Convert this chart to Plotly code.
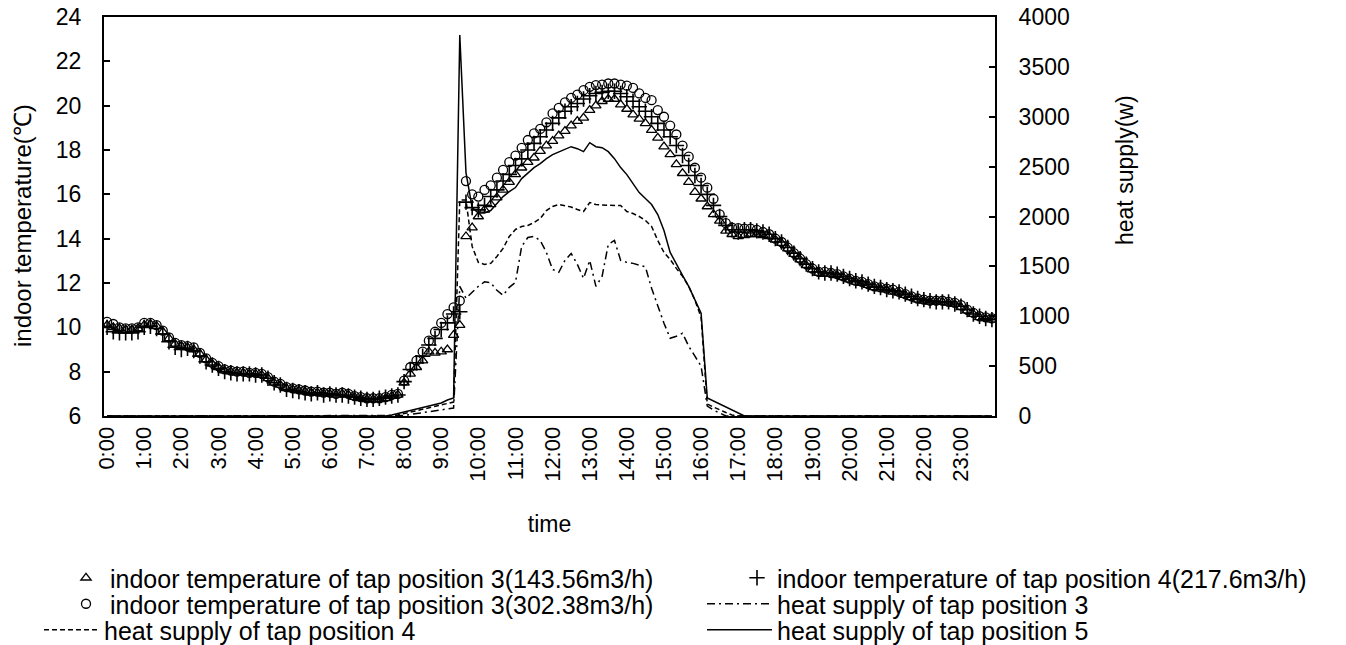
import plotly.graph_objects as go

# 10-minute time categories
times = [f"{h}:{m:02d}" for h in range(24) for m in range(0, 60, 10)]
hour_labels = [f"{h}:00" for h in range(24)]

temp_tap3_143 = [
    10.1, 10.0, 9.95, 9.9, 9.9, 9.95, 10.1, 10.15, 10.05, 9.8,
    9.5, 9.25, 9.15, 9.1, 9.0, 8.8, 8.55, 8.35, 8.2, 8.05,
    8.0, 7.95, 7.95, 7.9, 7.9, 7.85, 7.7, 7.5, 7.4, 7.25,
    7.2, 7.15, 7.1, 7.05, 7.05, 7.0, 7.0, 6.95, 7.0, 6.95,
    6.85, 6.8, 6.75, 6.75, 6.75, 6.8, 6.9, 6.95, 7.5, 7.9,
    8.2, 8.5, 8.9, 8.85, 8.9, 9.0, 9.65, 10.1, 14.1, 14.5,
    15.0, 15.3, 15.55, 15.85, 16.2, 16.55, 16.9, 17.2, 17.45, 17.65,
    17.95, 18.2, 18.4, 18.65, 18.85, 19.1, 19.3, 19.45, 19.8, 20.0,
    20.2, 20.3, 20.3, 20.05, 19.85, 19.6, 19.4, 19.2, 18.9, 18.55,
    18.15, 17.8, 17.35, 16.95, 16.55, 16.1, 15.8, 15.45, 15.1, 14.8,
    14.35, 14.2, 14.1, 14.15, 14.2, 14.2, 14.15, 14.1, 13.95, 13.8,
    13.55, 13.3, 13.05, 12.8, 12.6, 12.45, 12.4, 12.4, 12.35, 12.25,
    12.15, 12.05, 12.0, 11.9, 11.8, 11.75, 11.7, 11.6, 11.55, 11.45,
    11.35, 11.25, 11.2, 11.15, 11.15, 11.15, 11.1, 11.05, 10.9, 10.75,
    10.6, 10.45, 10.4, 10.35,
]

temp_tap4_217 = [
    10.0, 9.8, 9.75, 9.75, 9.75, 9.8, 10.0, 10.05, 9.95, 9.7,
    9.35, 9.1, 9.0, 9.05, 8.95, 8.7, 8.45, 8.3, 8.15, 8.0,
    7.95, 7.9, 7.9, 7.9, 7.85, 7.85, 7.7, 7.5, 7.4, 7.2,
    7.15, 7.1, 7.05, 7.0, 7.05, 6.95, 7.0, 6.95, 6.95, 6.9,
    6.85, 6.8, 6.75, 6.75, 6.8, 6.85, 6.9, 6.95, 7.55, 8.1,
    8.4, 8.7, 9.2, 9.5, 9.9, 10.2, 10.6, 10.7, 15.65, 15.4,
    15.3, 15.5, 15.9, 16.2, 16.6, 16.9, 17.3, 17.6, 18.0, 18.3,
    18.6, 18.9, 19.2, 19.45, 19.75, 19.95, 20.1, 20.3, 20.45, 20.55,
    20.6, 20.65, 20.65, 20.55, 20.4, 20.2, 19.95, 19.75, 19.5, 19.2,
    18.9, 18.6, 18.2, 17.75, 17.3, 16.85, 16.4, 16.0, 15.5, 15.0,
    14.6, 14.4, 14.3, 14.4, 14.4, 14.35, 14.3, 14.2, 14.0, 13.85,
    13.6, 13.35, 13.1, 12.85, 12.65, 12.5, 12.45, 12.45, 12.4, 12.3,
    12.2, 12.1, 12.05, 11.95, 11.85, 11.8, 11.7, 11.65, 11.6, 11.5,
    11.4, 11.3, 11.25, 11.2, 11.15, 11.15, 11.15, 11.05, 10.95, 10.8,
    10.6, 10.5, 10.4, 10.35,
]

temp_tap3_302 = [
    10.25, 10.15, 10.0, 9.95, 9.95, 10.0, 10.2, 10.2, 10.1, 9.85,
    9.55, 9.3, 9.2, 9.15, 9.1, 8.85, 8.6, 8.4, 8.25, 8.1,
    8.05, 8.0, 8.0, 7.95, 7.95, 7.9, 7.75, 7.55, 7.45, 7.3,
    7.25, 7.2, 7.15, 7.1, 7.1, 7.05, 7.05, 7.0, 7.05, 7.0,
    6.9, 6.85, 6.8, 6.8, 6.8, 6.85, 6.95, 7.0, 7.6, 8.2,
    8.5, 8.9, 9.4, 9.8, 10.2, 10.6, 10.9, 11.2, 16.6, 16.0,
    15.9, 16.2, 16.4, 16.75, 17.1, 17.45, 17.75, 18.1, 18.45, 18.75,
    18.95, 19.25, 19.65, 19.9, 20.15, 20.35, 20.5, 20.7, 20.85, 20.93,
    20.95, 21.0, 21.0, 20.95, 20.9, 20.8, 20.55, 20.35, 20.25, 19.8,
    19.5, 19.1, 18.7, 18.2, 17.7, 17.2, 16.75, 16.3, 15.8, 15.1,
    14.7, 14.5, 14.48, 14.45, 14.45, 14.4, 14.3, 14.2, 14.0, 13.85,
    13.6, 13.35, 13.1, 12.85, 12.65, 12.5, 12.5, 12.45, 12.4, 12.3,
    12.2, 12.1, 12.05, 11.95, 11.85, 11.8, 11.75, 11.7, 11.6, 11.5,
    11.4, 11.3, 11.25, 11.2, 11.2, 11.2, 11.15, 11.1, 11.0, 10.8,
    10.65, 10.5, 10.45, 10.4,
]

heat_tap3 = [
    0, 0, 0, 0, 0, 0, 0, 0, 0, 0,
    0, 0, 0, 0, 0, 0, 0, 0, 0, 0,
    0, 0, 0, 0, 0, 0, 0, 0, 0, 0,
    0, 0, 0, 0, 0, 0, 0, 0, 0, 0,
    0, 0, 0, 0, 0, 0, 0, 0, 5, 15,
    25, 35, 45, 55, 65, 75, 80, 1300, 1180, 1240,
    1300, 1345, 1335, 1260, 1210, 1290, 1340, 1700, 1790, 1800,
    1760, 1640, 1470, 1440, 1560, 1630, 1520, 1380, 1560, 1300,
    1400, 1720, 1760, 1560, 1540, 1530, 1510, 1495, 1280, 1100,
    930, 780, 800, 830, 700, 600, 500, 100, 60, 30,
    0, 0, 0, 0, 0, 0, 0, 0, 0, 0,
    0, 0, 0, 0, 0, 0, 0, 0, 0, 0,
    0, 0, 0, 0, 0, 0, 0, 0, 0, 0,
    0, 0, 0, 0, 0, 0, 0, 0, 0, 0,
    0, 0, 0, 0,
]

heat_tap4 = [
    0, 0, 0, 0, 0, 0, 0, 0, 0, 0,
    0, 0, 0, 0, 0, 0, 0, 0, 0, 0,
    0, 0, 0, 0, 0, 0, 0, 0, 0, 0,
    0, 0, 0, 0, 0, 0, 0, 0, 0, 0,
    0, 0, 0, 0, 0, 0, 0, 10, 25, 40,
    55, 70, 85, 95, 110, 130, 140, 2165, 2165, 1700,
    1540, 1520, 1530, 1600, 1680, 1800, 1870, 1900, 1910, 1940,
    1980, 2060, 2100, 2120, 2110, 2095, 2070, 2050, 2140, 2120,
    2115, 2115, 2115, 2110, 2050, 2030, 2000, 1960, 1900, 1760,
    1640, 1570, 1480, 1400, 1300, 1160, 990, 120, 90, 60,
    35, 10, 0, 0, 0, 0, 0, 0, 0, 0,
    0, 0, 0, 0, 0, 0, 0, 0, 0, 0,
    0, 0, 0, 0, 0, 0, 0, 0, 0, 0,
    0, 0, 0, 0, 0, 0, 0, 0, 0, 0,
    0, 0, 0, 0,
]

heat_tap5 = [
    0, 0, 0, 0, 0, 0, 0, 0, 0, 0,
    0, 0, 0, 0, 0, 0, 0, 0, 0, 0,
    0, 0, 0, 0, 0, 0, 0, 0, 0, 0,
    0, 0, 0, 0, 0, 0, 0, 0, 0, 0,
    0, 0, 0, 0, 0, 0, 10, 25, 40, 55,
    70, 85, 100, 110, 130, 160, 180, 3820, 2440, 2090,
    2035, 2035, 2060, 2130, 2200, 2250, 2290, 2380, 2440, 2490,
    2530, 2580, 2620, 2645, 2670, 2700, 2680, 2650, 2740, 2700,
    2690, 2650, 2580, 2490, 2420, 2330, 2240, 2180, 2120, 2020,
    1860, 1640, 1520, 1410, 1300, 1170, 1030, 180, 150, 120,
    85, 55, 25, 0, 0, 0, 0, 0, 0, 0,
    0, 0, 0, 0, 0, 0, 0, 0, 0, 0,
    0, 0, 0, 0, 0, 0, 0, 0, 0, 0,
    0, 0, 0, 0, 0, 0, 0, 0, 0, 0,
    0, 0, 0, 0,
]

FONT = "Liberation Sans, Arial, sans-serif"
W, H = 1346, 645
# plot-area box in page pixels
PL, PR, PT, PB = 104, 995, 17, 416

fig = go.Figure()

fig.add_trace(go.Scatter(x=times, y=temp_tap3_143, mode="markers", legend="legend",
                         name="indoor temperature of tap position 3(143.56m3/h)",
                         marker=dict(symbol="triangle-up-open", color="black", size=9,
                                     line=dict(color="black", width=1.3))))
fig.add_trace(go.Scatter(x=times, y=temp_tap4_217, mode="markers", legend="legend2",
                         name="indoor temperature of tap position 4(217.6m3/h)",
                         marker=dict(symbol="cross-thin-open", color="black", size=11,
                                     line=dict(color="black", width=1.6))))
fig.add_trace(go.Scatter(x=times, y=temp_tap3_302, mode="markers", legend="legend3",
                         name="indoor temperature of tap position 3(302.38m3/h)",
                         marker=dict(symbol="circle-open", color="black", size=9,
                                     line=dict(color="black", width=1.3))))
fig.add_trace(go.Scatter(x=times, y=heat_tap3, mode="lines", yaxis="y2", legend="legend4",
                         name="heat supply of tap position 3",
                         line=dict(color="black", width=1.5, dash="8px,4px,2px,4px")))
fig.add_trace(go.Scatter(x=times, y=heat_tap4, mode="lines", yaxis="y2", legend="legend5",
                         name="heat supply of tap position 4",
                         line=dict(color="black", width=1.5, dash="5px,3px")))
fig.add_trace(go.Scatter(x=times, y=heat_tap5, mode="lines", yaxis="y2", legend="legend6",
                         name="heat supply of tap position 5",
                         line=dict(color="black", width=1.5)))

LEG_SIZE = 25


def leg(text_x, row_y, itemw):
    left = text_x - (itemw + 10)
    return dict(xref="container", yref="container",
                x=left / W, y=1 - row_y / H,
                xanchor="left", yanchor="middle", itemwidth=itemw,
                font=dict(family=FONT, size=LEG_SIZE, color="black"),
                bgcolor="rgba(0,0,0,0)", borderwidth=0)


def px_to_paper(px, py):
    return (px - PL) / (PR - PL), (PB - py) / (PB - PT)


lx, ly = px_to_paper(22, 226)
rx, ry = px_to_paper(1125, 170)

fig.update_layout(
    width=W, height=H,
    paper_bgcolor="white", plot_bgcolor="white",
    margin=dict(l=PL, r=W - PR, t=PT, b=H - PB, autoexpand=False),
    font=dict(family=FONT, size=22, color="black"),
    xaxis=dict(type="category", categoryorder="array", categoryarray=times,
               range=[-0.5, len(times) - 0.5],
               tickmode="array", tickvals=hour_labels, ticktext=hour_labels,
               tickangle=-90, ticks="", showgrid=False, zeroline=False,
               showline=True, linecolor="black", linewidth=2, mirror=True,
               tickfont=dict(size=22), ticklabeloverflow="allow",
               title=dict(text="time", font=dict(size=23), standoff=35)),
    yaxis=dict(range=[6, 24], dtick=2, tick0=6, showgrid=False, zeroline=False,
               showline=True, linecolor="black", linewidth=2,
               ticks="inside", ticklen=6, tickwidth=1.5, tickcolor="black",
               ticklabelstandoff=16, tickfont=dict(size=23), ticklabeloverflow="allow"),
    yaxis2=dict(range=[0, 4000], dtick=500, overlaying="y", side="right",
                showgrid=False, zeroline=False,
                showline=True, linecolor="black", linewidth=2,
                ticks="inside", ticklen=6, tickwidth=1.5, tickcolor="black",
                ticklabelstandoff=17, tickfont=dict(size=23), ticklabeloverflow="allow"),
    annotations=[
        dict(text="indoor temperature(℃)", xref="paper", yref="paper", x=lx, y=ly,
             textangle=-90, showarrow=False, xanchor="center", yanchor="middle",
             font=dict(family=FONT, size=24, color="black")),
        dict(text="heat supply(w)", xref="paper", yref="paper", x=rx, y=ry,
             textangle=-90, showarrow=False, xanchor="center", yanchor="middle",
             font=dict(family=FONT, size=23, color="black")),
    ],
    showlegend=True,
    legend=leg(110, 578, 38),
    legend2=leg(777, 578, 30),
    legend3=leg(110, 604, 38),
    legend4=leg(777, 604, 65),
    legend5=leg(104, 630, 55),
    legend6=leg(777, 630, 65),
)

fig.write_html("out.html", config={"displayModeBar": False},
               post_script="document.body.style.margin='0';document.body.style.padding='0';")
